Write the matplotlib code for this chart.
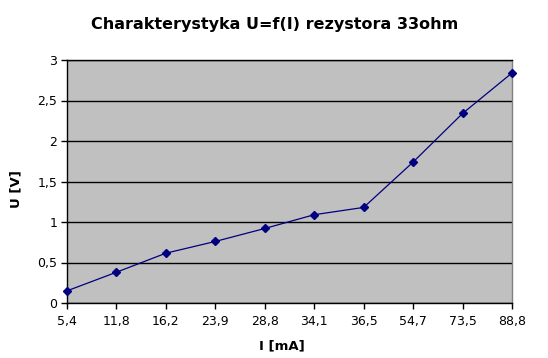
import matplotlib
matplotlib.use("Agg")
import matplotlib.pyplot as plt
import numpy as np

categories = ["5,4", "11,8", "16,2", "23,9", "28,8", "34,1", "36,5", "54,7", "73,5", "88,8"]
voltage = [0.15, 0.38, 0.615, 0.76, 0.92, 1.09, 1.18, 1.74, 2.34, 2.84]
yticks = [0, 0.5, 1, 1.5, 2, 2.5, 3]
ytick_labels = ["0", "0,5", "1", "1,5", "2", "2,5", "3"]

fig = plt.figure(figsize=(5.48, 3.58), dpi=100)
fig.patch.set_facecolor("white")
ax = fig.add_axes([67/548, 55/358, 445/548, 243/358])
ax.set_facecolor("#C0C0C0")

x = np.arange(len(categories))
ax.plot(x, voltage, color="#000080", linewidth=0.9, marker="D", markersize=4.5,
        markerfacecolor="#000080", markeredgecolor="#000080", zorder=3, clip_on=False)

ax.set_xlim(0, len(categories) - 1)
ax.set_ylim(0, 3)
ax.set_xticks(x)
ax.set_xticklabels(categories)
ax.set_yticks(yticks)
ax.set_yticklabels(ytick_labels)
ax.yaxis.grid(True, color="black", linewidth=1)
ax.set_axisbelow(True)

for s in ["left", "bottom", "top"]:
    ax.spines[s].set_color("black")
    ax.spines[s].set_linewidth(1)
ax.spines["right"].set_color("#808080")
ax.spines["right"].set_linewidth(1)

ax.tick_params(axis="both", direction="out", length=4, width=1, color="black",
               labelsize=9, labelcolor="black", pad=3)
ax.tick_params(axis="x", pad=5)

fig.text(275/548, 1 - 25/358, "Charakterystyka U=f(I) rezystora 33ohm", ha="center", va="center",
         fontsize=11.5, fontweight="bold")
fig.text(282/548, 1 - 346/358, "I [mA]", ha="center", va="center", fontsize=9.5, fontweight="bold")
fig.text(16/548, 1 - 189/358, "U [V]", ha="center", va="center", fontsize=9.5, fontweight="bold",
         rotation=90)

fig.savefig("out.png", dpi=100)
